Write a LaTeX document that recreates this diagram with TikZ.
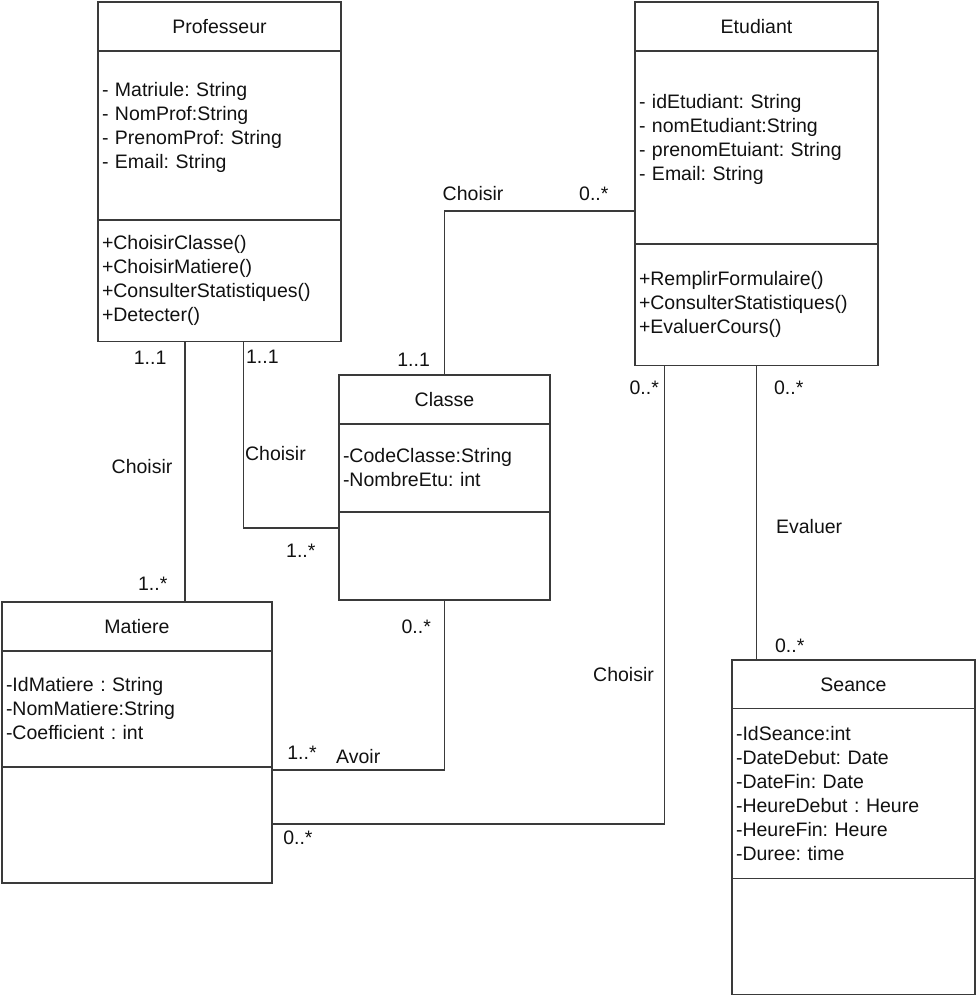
\documentclass[tikz,border=0pt]{standalone}
\usepackage{fontspec}
\setmainfont{Liberation Sans}
\usepackage{tikz}
\usetikzlibrary{positioning}
\definecolor{Edge}{HTML}{3A3A3A}
\definecolor{Ink}{HTML}{111111}
\newcommand{\umlfont}{\frenchspacing\fontsize{19.5}{24}\selectfont}

\begin{document}
\begin{tikzpicture}[
    x=1pt,y=-1pt,
    head/.style={draw=Edge,line width=1.2pt,outer sep=0pt,inner sep=0pt,
      minimum height=49pt,font=\umlfont,text=Ink},
    comp/.style={draw=Edge,line width=1.2pt,outer sep=0pt,inner xsep=4pt,
      inner ysep=0pt,align=left,font=\umlfont,text=Ink},
    assoc/.style={Edge,line width=1.2pt},
    lbl/.style={inner sep=0pt,font=\umlfont,text=Ink}
  ]
  \useasboundingbox (0,0) rectangle (977,995);
  % classes
  \node[head,minimum width=243pt] (prof) at (219.5,26.5) {Professeur};
  \node[comp,text width=235pt,minimum height=169pt,below=0pt of prof] (prof-att)
    {- Matriule: String\\- NomProf:String\\- PrenomProf: String\\- Email: String\\[-4pt]~};
  \node[comp,text width=235pt,minimum height=121.7pt,below=0pt of prof-att] (prof-ops)
    {+ChoisirClasse()\\+ChoisirMatiere()\\+ConsulterStatistiques()\\+Detecter()};

  \node[head,minimum width=243pt] (etu) at (756.5,26.5) {Etudiant};
  \node[comp,text width=235pt,minimum height=193pt,below=0pt of etu] (etu-att)
    {- idEtudiant: String\\- nomEtudiant:String\\- prenomEtuiant: String\\- Email: String\\[-4pt]~};
  \node[comp,text width=235pt,minimum height=121.7pt,below=0pt of etu-att] (etu-ops)
    {+RemplirFormulaire()\\+ConsulterStatistiques()\\+EvaluerCours()};

  \node[head,minimum width=211pt] (cls) at (444.5,399.5) {Classe};
  \node[comp,text width=203pt,minimum height=88pt,below=0pt of cls] (cls-att)
    {-CodeClasse:String\\-NombreEtu: int};
  \node[comp,text width=203pt,minimum height=88pt,below=0pt of cls-att] (cls-ops) {};

  \node[head,minimum width=270pt] (mat) at (137,626.5) {Matiere};
  \node[comp,text width=262pt,minimum height=116pt,below=0pt of mat] (mat-att)
    {-IdMatiere : String\\-NomMatiere:String\\-Coefficient : int};
  \node[comp,text width=262pt,minimum height=116pt,below=0pt of mat-att] (mat-ops) {};

  \node[head,minimum width=243pt,minimum height=48.6pt] (sea) at (853.5,684.3) {Seance};
  \node[comp,text width=235pt,minimum height=170pt,below=0pt of sea] (sea-att)
    {-IdSeance:int\\-DateDebut: Date\\-DateFin: Date\\-HeureDebut : Heure\\-HeureFin: Heure\\-Duree: time};
  \node[comp,text width=235pt,minimum height=115.5pt,below=0pt of sea-att] (sea-ops) {};

  % connector ends
  \coordinate (pm) at ([xshift=-34.5pt]prof-ops.south);
  \coordinate (pc) at ([xshift=24pt]prof-ops.south);
  \coordinate (cp) at ([yshift=-16pt]cls-ops.north west);
  \coordinate (ec) at ([yshift=33pt]etu-att.south west);
  \coordinate (mc) at ([yshift=-3pt]mat-ops.north east);
  \coordinate (me) at ([yshift=-57pt]mat-ops.north east);
  \coordinate (em) at ([xshift=-92pt]etu-ops.south);

  % associations
  \draw[assoc] (pm) -- node[lbl,pos=.06,left=18pt]{1..1}
    node[lbl,pos=.48,left=12pt]{Choisir} node[lbl,pos=.93,left=17pt]{1..*} (pm |- mat.north);
  \draw[assoc] (pc) |- node[lbl,pos=.04,right=2pt]{1..1}
    node[lbl,pos=.3,right=1pt]{Choisir} node[lbl,pos=.8,below=15pt]{1..*} (cp);
  \draw[assoc] (ec) -| node[lbl,pos=.108,above=10pt]{0..*}
    node[lbl,pos=.425,above=10pt]{Choisir} node[lbl,pos=.955,left=14pt]{1..1} (cls.north);
  \draw[assoc] (cls-ops.south) |- node[lbl,pos=.08,left=13pt]{0..*}
    node[lbl,pos=.75,above=6pt]{Avoir} node[lbl,pos=.913,above=10pt]{1..*} (mc);
  \draw[assoc] (me) -| node[lbl,pos=.033,below=6pt]{0..*}
    node[lbl,pos=.663,left=10pt]{Choisir} node[lbl,pos=.976,left=5pt]{0..*} (em);
  \draw[assoc] (etu-ops.south) -- node[lbl,pos=.076,right=17pt]{0..*}
    node[lbl,pos=.545,right=19pt]{Evaluer} node[lbl,pos=.95,right=18pt]{0..*} (etu-ops.south |- sea.north);
\end{tikzpicture}
\end{document}
